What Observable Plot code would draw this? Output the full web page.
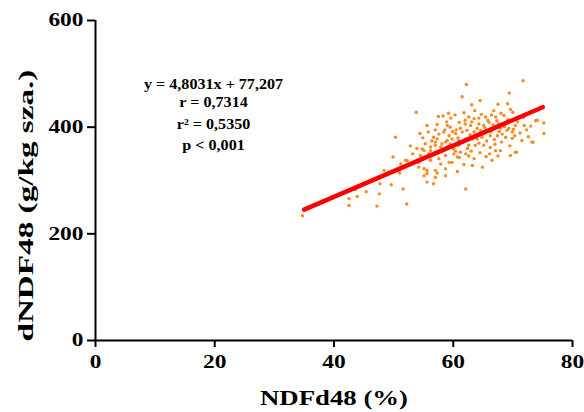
<!DOCTYPE html>
<html><head><meta charset="utf-8">
<script src="https://cdn.jsdelivr.net/npm/d3@7"></script>
<script src="https://cdn.jsdelivr.net/npm/@observablehq/plot@0.6"></script>
<style>
body{margin:0;background:#fff;}
#chart svg{display:block;}
[aria-label="x-axis tick"],[aria-label="y-axis tick"]{stroke-width:2px;}
[aria-label="x-axis"] .tick line,[aria-label="y-axis"] .tick line{stroke-width:2px;}
</style></head><body><div id="chart"></div>
<script>
const ndfd48 = [
62.2,71.7,69.4,61.5,64.5,63.1,67.5,69.1,53.8,57.5,
58.3,59.6,55.6,50.3,63.6,66.8,69.6,62.6,63.5,64.3,
65.4,66.4,67.1,68.5,59.0,59.5,61.0,62.0,62.9,64.3,
65.1,66.0,67.6,68.8,70.4,73.0,75.2,73.8,56.7,57.3,
58.4,59.3,60.4,61.5,62.3,63.5,64.6,65.7,66.8,67.9,
69.0,69.9,75.2,55.3,57.0,58.1,59.0,59.8,60.9,62.1,
63.2,64.0,64.8,66.2,67.4,69.9,73.2,54.8,56.2,57.9,
59.0,60.1,60.9,62.6,63.7,65.1,67.1,67.9,70.4,69.6,
54.5,55.9,57.0,58.7,60.1,61.2,62.1,54.2,56.2,57.6,
59.3,60.7,61.8,63.2,64.9,55.1,57.0,58.7,60.7,55.6,
57.3,62.1,70.6,73.4,74.1,71.9,55.1,56.2,57.0,58.7,
58.7,55.6,55.1,57.0,56.7,55.6,57.9,59.8,34.7,42.5,
42.5,43.9,43.6,45.4,47.2,47.6,47.7,48.4,49.6,49.9,
51.6,52.2,51.2,52.0,52.3,51.0,50.9,54.2,60.5,61.2,
62.8,63.9,64.9,65.3,66.3,66.9,67.7,68.2,68.6,69.3,
70.1,70.8,71.2,71.8,72.3,61.6,62.4,63.0,64.3,65.6,
66.2,67.0,68.1,68.8,69.5,70.3,58.6,59.9,60.8,57.6,
56.4,58.3,59.5,60.4,61.0,62.6,63.5,64.5,65.5,66.5,
64.0,62.0,60.3,61.8,63.1,64.7,65.8,66.7,67.3,68.0,
69.2,70.0,57.3,58.9,55.8,54.9,56.1,53.2,53.9,52.8,
54.4,59.2,57.0,71.5,72.6,66.1,67.5
];
const dndf48 = [
480,487,464,457,450,442,443,444,428,420,
421,417,403,381,431,431,433,419,416,417,
419,423,419,422,403,400,409,406,403,406,
403,409,406,409,403,402,408,412,381,378,
391,384,388,391,394,391,394,394,397,398,
394,391,388,369,372,369,375,378,375,378,
378,378,381,384,384,379,372,359,363,363,
363,359,366,366,366,366,356,356,353,347,
347,350,353,347,350,353,350,334,338,341,
334,344,330,328,325,322,319,322,317,313,
314,284,353,372,413,403,356,356,366,372,
309,319,309,306,294,297,331,334,234,266,
253,270,283,279,252,275,294,319,292,344,
284,256,331,338,337,314,318,325,395,398,
386,384,387,399,391,377,392,387,401,398,
396,410,389,418,395,372,360,355,370,374,
362,368,372,381,365,384,395,392,380,387,
374,356,368,355,343,346,341,352,345,338,
398,413,423,427,410,424,413,404,412,426,
414,428,405,410,391,380,345,350,360,365,
388,426,395,375,382,350,346
];
const xTicks = [0, 20, 40, 60, 80];
const yTicks = [0, 200, 400, 600];
const regSlope = 4.8031, regIntercept = 77.207;
const regRange = [35, 75];
const annotationLines = ["y = 4,8031x + 77,207", "r = 0,7314", "r² = 0,5350", "p < 0,001"];
const annotationX = 19.8;
const annotationY = [480, 446, 405, 366];
const xLabel = "NDFd48 (%)";
const yLabel = "dNDF48 (g/kg sza.)";
const xLabelPos = [40, -108];
const yLabelPos = [-11.7, 253];

const points = ndfd48.map((x, i) => ({x, y: dndf48[i]}));
const regLine = regRange.map(x => ({x, y: regSlope * x + regIntercept}));
const anno = annotationLines.map((t, i) => ({t, x: annotationX, y: annotationY[i]}));

const svg = Plot.plot({
  width: 584, height: 412,
  marginLeft: 95, marginRight: 12, marginTop: 20, marginBottom: 72,
  style: {fontFamily: "'Liberation Serif', 'Times New Roman', serif", fontWeight: "bold", fontSize: "18px", color: "#000", background: "#fff", overflow: "visible"},
  x: {domain: [0, 80], ticks: xTicks, tickSize: 7, tickPadding: 8, label: null},
  y: {domain: [0, 600], ticks: yTicks, tickSize: 8, tickPadding: 4, label: null},
  marks: [
    Plot.ruleY([0], {x1: 0, x2: 80, stroke: "#000", strokeWidth: 2}),
    Plot.ruleX([0], {y1: 0, y2: 600, stroke: "#000", strokeWidth: 2}),
    Plot.dot(points, {x: "x", y: "y", r: 1.7, fill: "#F98A24", stroke: "none"}),
    Plot.line(regLine, {x: "x", y: "y", stroke: "#FF0000", strokeWidth: 4.5}),
    Plot.text(anno, {x: "x", y: "y", text: "t", fontSize: 14}),
    Plot.text([xLabel], {x: () => xLabelPos[0], y: () => xLabelPos[1], text: d => d, fontSize: 22}),
    Plot.text([yLabel], {x: () => yLabelPos[0], y: () => yLabelPos[1], rotate: -90, text: d => d, fontSize: 22})
  ]
});
document.getElementById("chart").append(svg);

// The reference typeface is horizontally wider than Liberation Serif: stretch the texts to match.
const tickVals = new Set([...xTicks, ...yTicks].map(String));
svg.querySelectorAll("text").forEach(el => {
  const s = el.textContent;
  const w = el.getComputedTextLength();
  let target = null;
  if (tickVals.has(s)) target = w * 1.3;
  else if (s === xLabel) target = 148;
  else if (s === yLabel) target = 272;
  else if (annotationLines.includes(s)) target = w * 1.15;
  if (target && w) {
    el.setAttribute("textLength", target.toFixed(1));
    el.setAttribute("lengthAdjust", "spacingAndGlyphs");
  }
});
</script>
</body></html>
